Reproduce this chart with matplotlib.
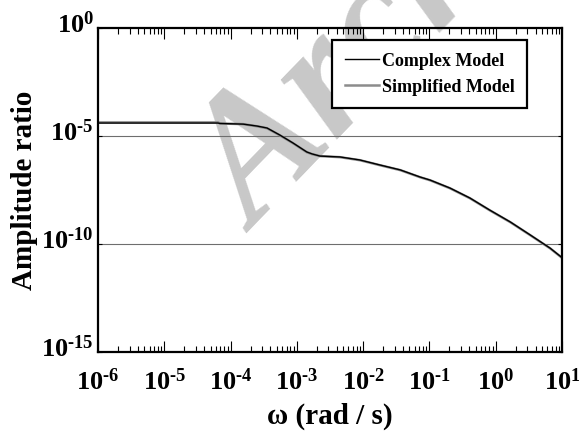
import numpy as np
import matplotlib
matplotlib.use("Agg")
import matplotlib.pyplot as plt
from matplotlib.ticker import LogLocator, FixedLocator, NullLocator
from matplotlib.transforms import ScaledTranslation

# ---- data ----
log_omega_complex = [-6.0, -5.0, -4.19, -4.16, -3.81, -3.60, -3.45, -3.26, -3.06, -2.85,
                     -2.77, -2.65, -2.35, -2.05, -1.75, -1.44, -1.14, -0.99, -0.69,
                     -0.39, -0.09, 0.22, 0.52, 0.82, 1.0]
log_amp_complex = [-4.40, -4.40, -4.40, -4.42, -4.45, -4.54, -4.63, -4.95, -5.32, -5.74,
                   -5.83, -5.93, -5.97, -6.11, -6.34, -6.57, -6.90, -7.04, -7.41,
                   -7.87, -8.43, -8.98, -9.58, -10.19, -10.63]

log_omega_simplified = [-6.0, -5.0, -4.19, -4.16, -3.81, -3.60, -3.45, -3.26, -3.06, -2.85,
                        -2.77, -2.65, -2.35, -2.05, -1.75, -1.44, -1.14, -0.99, -0.69,
                        -0.39, -0.09, 0.22, 0.52, 0.82, 1.0]
log_amp_simplified = [-4.37, -4.37, -4.37, -4.42, -4.45, -4.55, -4.64, -4.96, -5.33, -5.75,
                      -5.84, -5.93, -5.98, -6.12, -6.35, -6.58, -6.91, -7.05, -7.42,
                      -7.88, -8.44, -8.99, -9.59, -10.20, -10.64]

series_labels = ["Complex Model", "Simplified Model"]
x_label = "ω (rad / s)"
y_label = "Amplitude ratio"
x_major = [1e-6, 1e-5, 1e-4, 1e-3, 1e-2, 1e-1, 1e0, 1e1]
y_major = [1e-15, 1e-10, 1e-5, 1e0]
watermark = "Archive"

omega_c = 10.0 ** np.array(log_omega_complex)
amp_c = 10.0 ** np.array(log_amp_complex)
omega_s = 10.0 ** np.array(log_omega_simplified)
amp_s = 10.0 ** np.array(log_amp_simplified)

serif = ["Liberation Serif", "DejaVu Serif"]
plt.rcParams["font.family"] = serif
plt.rcParams["mathtext.fontset"] = "custom"
plt.rcParams["mathtext.rm"] = "Liberation Serif:bold"
plt.rcParams["mathtext.bf"] = "Liberation Serif:bold"
plt.rcParams["mathtext.default"] = "rm"


def pow_label(v):
    e = int(round(np.log10(v)))
    if e < 0:
        return r"$10^{\text{-}%d}$" % (-e)
    return r"$10^{%d}$" % e


W, H = 579, 445
fig = plt.figure(figsize=(W / 100, H / 100), dpi=100)
fig.patch.set_facecolor("white")

left, right, top, bottom = 98, 562, 28, 352
ax = fig.add_axes([left / W, 1 - bottom / H, (right - left) / W, (bottom - top) / H])
ax.set_facecolor("none")

# watermark (behind everything)
fig.text(256 / W, 1 - 234 / H, watermark, rotation=46, rotation_mode="anchor",
         ha="left", va="baseline", fontsize=128, fontweight="bold", fontstyle="italic",
         color="#c8c8c8", family=serif, zorder=-5)

ax.set_xscale("log")
ax.set_yscale("log")
ax.set_xlim(1e-6, 1e1)
ax.set_ylim(1e-15, 1e0)

# grid lines at the inner major y ticks
for yv in y_major[1:-1]:
    ax.axhline(yv, color="#6e6e6e", lw=0.8, zorder=1)

ax.plot(omega_s, amp_s, color="#8c8c8c", lw=1.8, zorder=2, label=series_labels[1])
ax.plot(omega_c, amp_c, color="black", lw=1.0, zorder=3, label=series_labels[0])

ax.xaxis.set_major_locator(FixedLocator(x_major))
ax.xaxis.set_minor_locator(LogLocator(base=10, subs=np.arange(2, 10), numticks=50))
ax.yaxis.set_major_locator(FixedLocator(y_major))
ax.yaxis.set_minor_locator(NullLocator())

ax.set_xticklabels([pow_label(v) for v in x_major])
ax.set_yticklabels([pow_label(v) for v in y_major])

ax.tick_params(axis="x", which="major", direction="in", length=8, width=0.8,
               top=True, bottom=True, labelsize=19, pad=12)
ax.tick_params(axis="x", which="minor", direction="in", length=4.3, width=0.8,
               top=True, bottom=True)
ax.tick_params(axis="y", which="major", direction="in", length=3, width=0.8,
               left=True, right=True, labelsize=19, pad=3)

shift = ScaledTranslation(0, 6 / 100, fig.dpi_scale_trans)
for lbl in ax.get_yticklabels():
    lbl.set_transform(lbl.get_transform() + shift)

for s in ax.spines.values():
    s.set_linewidth(1.6)
    s.set_zorder(4)

ax.set_xlabel(x_label, fontsize=21, fontweight="bold", family=serif)
ax.set_ylabel(y_label, fontsize=21, fontweight="bold", family=serif)
ax.xaxis.set_label_coords(0.5, -0.155)
ax.xaxis.label.set_va("top")
ax.yaxis.set_label_coords(-0.13, 0.5)

handles, labels = ax.get_legend_handles_labels()
leg = ax.legend(handles[::-1], labels[::-1], loc="upper right",
                bbox_to_anchor=((527 - left) / (right - left), (bottom - 40) / (bottom - top)),
                prop={"family": serif, "weight": "bold", "size": 13},
                frameon=True, fancybox=False, edgecolor="black", framealpha=1,
                handlelength=1.9, handletextpad=0.15, labelspacing=0.5,
                borderpad=0.7, borderaxespad=0)
leg.get_frame().set_linewidth(1.6)
leg.set_zorder(5)

fig.savefig("out.png", dpi=100, facecolor="white")
